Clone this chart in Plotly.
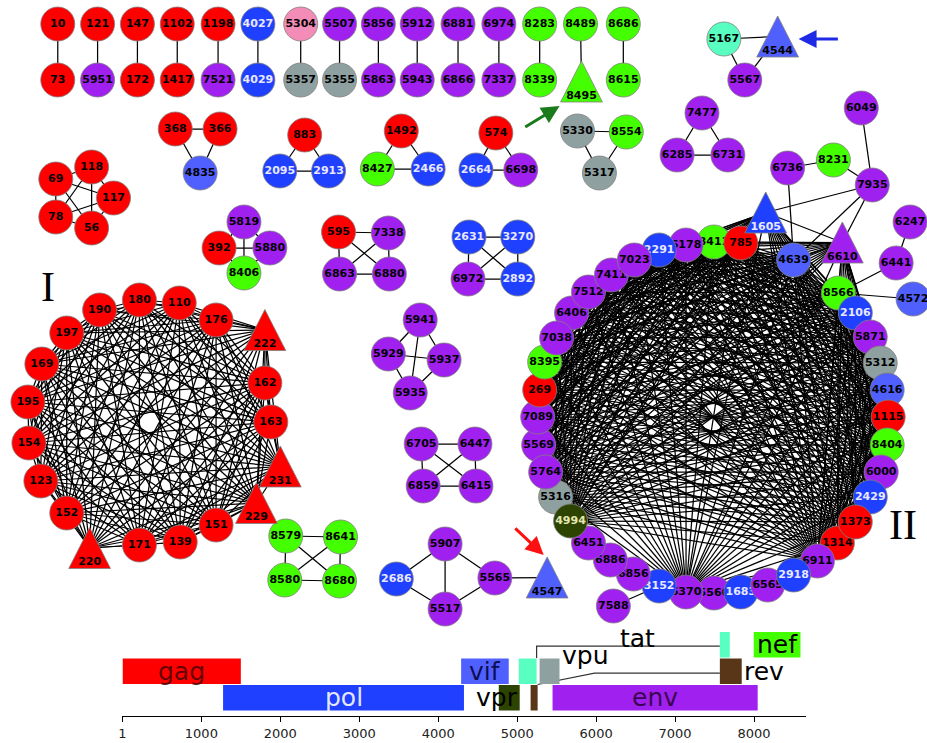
import plotly.graph_objects as go
from itertools import combinations

# ---------------- node annotation: gene region of each sampled position ----------------
gag_nodes = [10, 73, 121, 147, 172, 1102, 1417, 1198, 69, 118, 117, 56, 78, 368, 366, 883,
             1492, 574, 392, 595, 190, 180, 110, 176, 222, 162, 163, 231, 229, 151, 139,
             171, 220, 152, 123, 154, 195, 169, 197, 785, 269, 1115, 1373, 1314]
pol_nodes = [4027, 4029, 2095, 2913, 2466, 2664, 2631, 3270, 2892, 2686, 2291, 1605,
             2106, 2429, 2918, 1683, 3152]
vif_nodes = [4835, 4544, 4547, 4639, 4616, 4572]
vpr_nodes = [4994]
tat_nodes = [5167]
vpu_nodes = [5357, 5355, 5330, 5317, 5312, 5316]
other_nodes = [5304]
env_nodes = [5951, 7521, 5507, 5856, 5863, 5912, 5943, 6881, 6866, 6974, 7337, 5567, 6698,
             7477, 6285, 6731, 6049, 6736, 7935, 5819, 5880, 7338, 6863, 6880, 6972, 5941,
             5929, 5937, 5935, 6705, 6447, 6859, 6415, 5907, 5565, 5517, 6247, 6441, 6178,
             7023, 7411, 7512, 6406, 7038, 7089, 5569, 5764, 6451, 6886, 6856, 7588, 6370,
             5566, 6565, 6911, 6000, 5871, 6610]
nef_nodes = [8283, 8339, 8489, 8495, 8686, 8615, 8554, 8427, 8406, 8579, 8641, 8580, 8680,
             8231, 8411, 8395, 8566, 8404]

triangle_nodes = [8495, 4544, 4547, 222, 231, 229, 220, 1605, 6610]

# ---------------- network layout coordinates ----------------
top_row_x = [54, 94, 134, 174, 215, 255, 298, 337, 376, 415, 456, 497, 538, 579, 622]
top_row_upper = [10, 121, 147, 1102, 1198, 4027, 5304, 5507, 5856, 5912, 6881, 6974, 8283, 8489, 8686]
top_row_lower = [73, 5951, 172, 1417, 7521, 4029, 5357, 5355, 5863, 5943, 6866, 7337, 8339, 8495, 8615]

node_xy = {}
for x, a, b in zip(top_row_x, top_row_upper, top_row_lower):
    node_xy[a] = (x, 24)
    node_xy[b] = (x, 80)
node_xy[8495] = (580, 81.5)

node_xy.update({
    69: (52, 179), 118: (88, 167), 117: (110, 198), 56: (88, 228), 78: (52, 217),
    368: (172, 129), 366: (217, 129), 4835: (197, 173),
    883: (302, 135), 2095: (277, 171), 2913: (326, 171),
    1492: (399, 131), 8427: (375, 169), 2466: (426, 169),
    574: (494, 133), 2664: (474, 170), 6698: (519, 170),
    5330: (576, 131), 8554: (625, 132), 5317: (598, 173),
    5167: (723, 39), 4544: (777, 36.5), 5567: (744, 80),
    7477: (701, 113), 6285: (676, 155), 6731: (727, 155),
    5819: (241, 222), 392: (216, 248), 5880: (267, 248), 8406: (241, 273),
    595: (336, 232), 7338: (386, 233), 6863: (337, 274), 6880: (387, 274),
    2631: (467, 237), 3270: (516, 237), 6972: (466, 279), 2892: (516, 279),
    5941: (418, 320), 5929: (386, 354), 5937: (442, 360), 5935: (408, 393),
    6705: (419, 444), 6447: (473, 444), 6859: (421, 486), 6415: (474, 486),
    8579: (283, 536), 8641: (338, 537), 8580: (282, 580), 8680: (337, 581),
    5907: (443, 544), 2686: (394, 579), 5565: (493, 578), 5517: (443, 609),
    4547: (545.5, 577.5),
    6049: (861, 108), 8231: (833, 160), 6736: (787, 168), 7935: (872, 185),
    6247: (910, 222), 6441: (896, 263), 4572: (913, 299),
    # cluster I
    190: (96, 310), 180: (136, 300), 110: (176, 303), 176: (213, 320), 222: (262, 330),
    162: (262, 383), 163: (268, 422), 231: (277.5, 466.5), 229: (253.5, 503),
    151: (213, 525), 139: (177, 542), 171: (136, 545), 220: (86, 548), 152: (63, 513),
    123: (37, 481), 154: (25, 443), 195: (24, 402), 169: (38, 364), 197: (63, 333),
    # cluster II, in stacking order (later ones sit on top)
    5566: (713, 593), 6370: (685, 592), 1683: (740, 592), 6565: (767, 585),
    3152: (658, 586), 6856: (632, 574), 6886: (609, 560), 6451: (587, 543),
    5316: (554, 497), 4994: (569, 521), 5569: (537, 445), 5764: (544, 472),
    7089: (536, 417), 269: (538, 390), 8395: (543, 362), 6406: (570, 313),
    7038: (555, 338), 7512: (587, 292), 7411: (610, 275), 8411: (713, 242),
    785: (740, 243), 6178: (685, 245), 2291: (658, 250), 7023: (633, 260),
    1605: (765, 212.5), 4639: (793, 260), 6610: (842, 242.5),
    8566: (838, 293), 2106: (855, 313), 5871: (870, 337), 5312: (880, 363),
    4616: (887, 390), 1115: (888, 417), 8404: (887, 445), 6000: (881, 472),
    2429: (870, 497), 1314: (837, 543), 1373: (855, 522), 6911: (817, 561),
    2918: (793, 575), 7588: (612, 606),
})

# ---------------- edges ----------------
pair_edges = list(zip(top_row_upper, top_row_lower))
small_cliques = [
    [69, 118, 117, 56, 78], [368, 366, 4835], [883, 2095, 2913], [1492, 8427, 2466],
    [574, 2664, 6698], [5330, 8554, 5317], [5167, 4544, 5567], [7477, 6285, 6731],
    [5819, 392, 5880, 8406], [595, 7338, 6863, 6880], [2631, 3270, 6972, 2892],
    [5941, 5929, 5937, 5935], [6705, 6447, 6859, 6415], [8579, 8641, 8580, 8680],
]
extra_edges = [
    (2686, 5907), (2686, 5517), (5907, 5517), (5907, 5565), (5517, 5565), (5565, 4547),
    (6049, 7935), (8231, 7935), (6736, 8231), (6736, 4639), (7935, 4639), (7935, 1605),
    (7935, 6610), (6247, 6441), (6441, 8566), (4572, 8566), (7588, 3152),
]
cluster1 = [190, 180, 110, 176, 222, 162, 163, 231, 229, 151, 139, 171, 220, 152, 123,
            154, 195, 169, 197]
cluster2_core = [269, 8395, 7038, 6406, 7512, 7411, 7023, 2291, 6178, 8411, 785, 1605,
                 4639, 6610, 8566, 2106, 5871, 5312, 4616, 1115, 8404, 6000, 2429, 1373,
                 1314, 6911, 7089, 5569, 5764, 5316]
cluster2_hubs = [4994, 6370]
cluster2_rim = [6451, 6886, 6856, 3152, 5566, 1683, 6565, 2918]

edges = list(pair_edges)
for grp in small_cliques + [cluster1, cluster2_core]:
    edges += list(combinations(grp, 2))
for h in cluster2_hubs:
    edges += [(h, n) for n in cluster2_core]
edges += [(6370, n) for n in cluster2_rim]
edges += extra_edges

# ---------------- genome map ----------------
gene_names = ["gag", "pol", "vif", "vpr", "tat", "tat", "rev", "rev", "vpu", "env", "nef"]
gene_start = [1, 1275, 4290, 4767, 5020, 7567, 5170, 7567, 5284, 5448, 7996]
gene_end = [1500, 4326, 4893, 5032, 5246, 7693, 5259, 7844, 5536, 8046, 8588]
gene_row = [1, 0, 1, 0, 1, 2, 0, 1, 1, 0, 2]
genome_ticks = [1, 1000, 2000, 3000, 4000, 5000, 6000, 7000, 8000]

gene_colour = {
    "gag": "#ff0000", "pol": "#2040ff", "vif": "#5060ff", "vpr": "#2c4400",
    "tat": "#58ffc0", "vpu": "#8fa0a0", "env": "#a020f0", "nef": "#44ff00",
    "rev": "#5a3618", "other": "#f48cb8",
}
node_gene = {}
for name, lst in [("gag", gag_nodes), ("pol", pol_nodes), ("vif", vif_nodes),
                  ("vpr", vpr_nodes), ("tat", tat_nodes), ("vpu", vpu_nodes),
                  ("other", other_nodes), ("env", env_nodes), ("nef", nef_nodes)]:
    for n in lst:
        node_gene[n] = name
label_colour = {"pol": "#e8e8ff", "vpr": "#e6e6b0"}
node_font = dict(family="DejaVu Sans", size=11, weight="bold")

fig = go.Figure()

# edges
ex, ey = [], []
for a, b in edges:
    (x0, y0), (x1, y1) = node_xy[a], node_xy[b]
    ex += [x0, x1, None]
    ey += [y0, y1, None]
fig.add_trace(go.Scatter(x=ex, y=ey, mode="lines", line=dict(color="black", width=1.25),
                         hoverinfo="skip", showlegend=False))

# circular nodes, one trace each so overlapping discs stack with their labels
for n in node_xy:
    if n in triangle_nodes:
        continue
    g = node_gene[n]
    fig.add_trace(go.Scatter(
        x=[node_xy[n][0]], y=[node_xy[n][1]], mode="markers+text", text=[str(n)],
        textposition="middle center",
        marker=dict(size=34, color=gene_colour[g], line=dict(color="#808080", width=0.8)),
        textfont=dict(color=label_colour.get(g, "black"), **node_font),
        hoverinfo="text", showlegend=False))

# triangular nodes
half_w, half_h = 21, 20.5
for n in triangle_nodes:
    x, y = node_xy[n]
    g = node_gene[n]
    fig.add_trace(go.Scatter(
        x=[x - half_w, x + half_w, x, x - half_w], y=[y + half_h, y + half_h, y - half_h, y + half_h],
        mode="lines", fill="toself", fillcolor=gene_colour[g],
        line=dict(color="#808080", width=0.8), hoverinfo="skip", showlegend=False))
    fig.add_trace(go.Scatter(
        x=[x], y=[y + 14.5], mode="text", text=[str(n)], textposition="middle center",
        textfont=dict(color=label_colour.get(g, "black"), **node_font),
        hoverinfo="skip", showlegend=False))

# arrows marking selected positions: (node, head dx, head dy, tail dx, tail dy, colour)
arrows = [(8495, -22, 24.5, -58, 46.5, "#1b7a1b"),
          (4547, -3.5, -22.5, -33.5, -50.5, "#ff1010"),
          (4544, 21, 2.5, 62, 2.5, "#1e2ae6")]
annotations = []
for n, hx, hy, tx, ty, c in arrows:
    x, y = node_xy[n]
    annotations.append(dict(x=x + hx, y=y + hy, ax=x + tx, ay=y + ty, xref="x", yref="y",
                            axref="x", ayref="y", text="", showarrow=True, arrowhead=2,
                            arrowsize=1.2, arrowwidth=3, arrowcolor=c))

# cluster labels
for txt, n, dx, dy in [("I", 190, -52, -23), ("II", 1314, 66, -18)]:
    x, y = node_xy[n]
    annotations.append(dict(x=x + dx, y=y + dy, xref="x", yref="y", text=txt, showarrow=False,
                            font=dict(family="Liberation Serif", size=42, color="black")))

# genome bars
shapes = []
for name, s, e, r in zip(gene_names, gene_start, gene_end, gene_row):
    shapes.append(dict(type="rect", xref="x2", yref="y2", x0=s, x1=e, y0=r + 0.02, y1=r + 0.98,
                       fillcolor=gene_colour[name], line=dict(width=0), layer="above"))

# exon connectors for tat and rev
tat_s = [i for i, g in enumerate(gene_names) if g == "tat"]
rev_s = [i for i, g in enumerate(gene_names) if g == "rev"]
fig.add_trace(go.Scatter(
    x=[gene_end[tat_s[0]], gene_end[tat_s[0]], gene_start[tat_s[1]]], y=[2.0, 2.45, 2.45],
    xaxis="x2", yaxis="y2", mode="lines", line=dict(color="#333", width=1.2),
    hoverinfo="skip", showlegend=False))
fig.add_trace(go.Scatter(
    x=[gene_end[rev_s[0]], 5980, gene_start[rev_s[1]]], y=[1.0, 1.43, 1.43],
    xaxis="x2", yaxis="y2", mode="lines", line=dict(color="#333", width=1.2),
    hoverinfo="skip", showlegend=False))

gene_label = [
    ("gag", (gene_start[0] + gene_end[0]) / 2, 1.5, "center", "rgba(80,0,0,0.9)"),
    ("pol", (gene_start[1] + gene_end[1]) / 2, 0.5, "center", "rgba(255,255,255,0.9)"),
    ("vif", (gene_start[2] + gene_end[2]) / 2, 1.5, "center", "rgba(0,0,50,0.85)"),
    ("vpr", gene_end[3], 0.5, "right", "black"),
    ("vpu", gene_end[8], 2.1, "left", "black"),
    ("tat", 6530, 2.75, "center", "black"),
    ("rev", gene_end[7], 1.5, "left", "black"),
    ("env", (gene_start[9] + gene_end[9]) / 2, 0.5, "center", "rgba(40,0,50,0.85)"),
    ("nef", (gene_start[10] + gene_end[10]) / 2, 2.5, "center", "black"),
]
for txt, x, y, anc, col in gene_label:
    annotations.append(dict(x=x, y=y, xref="x2", yref="y2", text=txt, showarrow=False,
                            xanchor=anc, yanchor="middle",
                            font=dict(family="DejaVu Sans", size=25, color=col)))

fig.update_layout(
    width=927, height=743, autosize=False, margin=dict(l=0, r=0, t=0, b=0),
    paper_bgcolor="white", plot_bgcolor="rgba(0,0,0,0)", showlegend=False,
    xaxis=dict(range=[0, 927], domain=[0, 1], visible=False, fixedrange=True),
    yaxis=dict(range=[743, 0], domain=[0, 1], visible=False, fixedrange=True),
    xaxis2=dict(domain=[119 / 927, 805 / 927], range=[1, 8652], anchor="y2",
                showline=True, linecolor="black", linewidth=1, ticks="outside", ticklen=5,
                tickcolor="black", tickvals=genome_ticks, ticktext=[str(t) for t in genome_ticks],
                tickfont=dict(family="DejaVu Sans", size=13, color="#222"),
                showgrid=False, zeroline=False),
    yaxis2=dict(domain=[27 / 743, 123 / 743], range=[-0.189, 3.434], anchor="x2",
                visible=False),
    shapes=shapes, annotations=annotations,
)

fig.write_html("out.html")
